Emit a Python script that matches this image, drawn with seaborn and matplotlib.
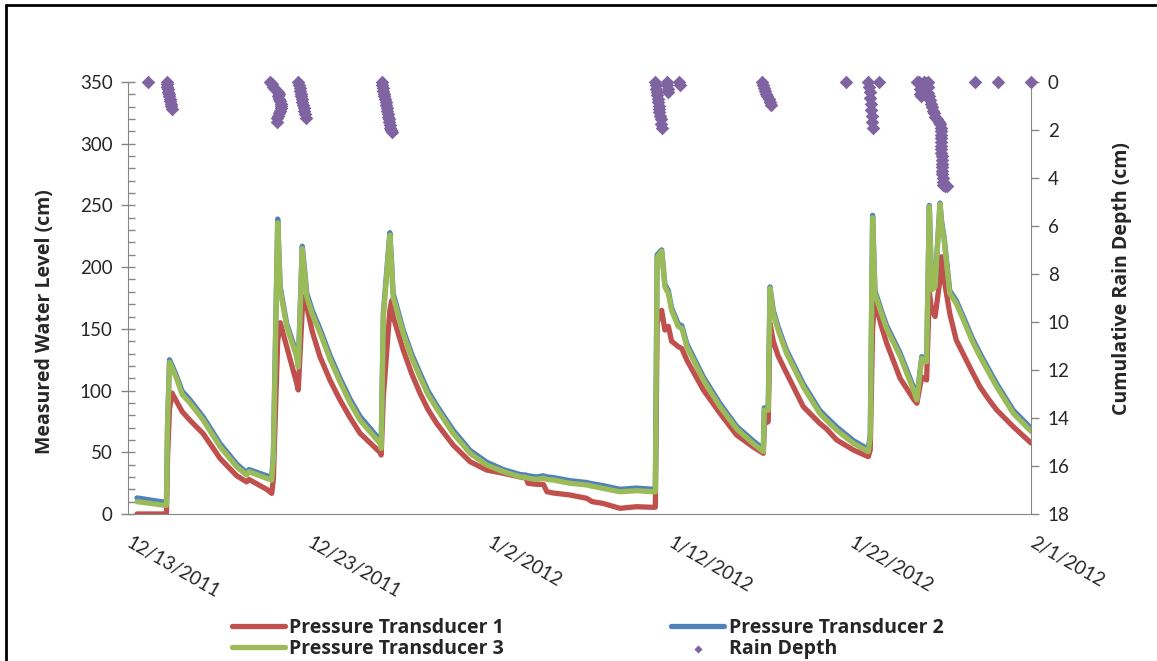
import numpy as np
import pandas as pd
import seaborn as sns
import matplotlib.pyplot as plt
import matplotlib.dates as mdates
from matplotlib.lines import Line2D

# water level data, days after 12/13/2011
days = [0.5, 2.05, 2.13, 2.19, 2.3, 2.44, 2.66, 3.0, 3.43, 4.17, 5.1,
        6.02, 6.57, 6.7, 7.68, 7.96, 8.05, 8.29, 8.43, 8.79, 9.34,
        9.43, 9.65, 9.78, 9.9, 10.2, 10.63, 11.2, 11.74, 12.3, 12.85, 13.95, 14.02, 14.14,
        14.5, 14.6, 14.68, 15.24, 15.7, 16.17, 16.6, 17.09, 18.0, 18.94, 19.86, 20.78,
        21.7, 22.05, 22.15, 22.63, 23.0, 23.2, 23.55, 24.47, 25.4, 25.7,
        26.3, 27.24, 28.15, 29.09, 29.2, 29.3, 29.55, 29.73, 29.92, 30.1,
        30.47, 30.67, 30.94, 31.86, 32.78, 33.7, 34.6, 35.18, 35.23, 35.45,
        35.55, 35.73, 36.0, 36.47, 37.39, 38.3, 38.67, 39.24, 40.16, 40.99, 41.1,
        41.23, 41.36, 41.7, 42.01, 42.75, 43.5, 43.68, 43.95, 44.22, 44.37, 44.5,
        44.69, 44.96, 45.05, 45.19, 45.5, 45.86, 46.32, 46.75, 47.18, 47.65, 48.1, 49.02,
        50.0]

pt1 = [0, 0, 0, 45, 85, 98, 92, 83, 76, 65, 45,
       31, 26, 28, 20, 16.7, 28, 140, 155, 135.5, 106,
       100.5, 165, 176, 168, 148, 127.5, 108, 92.4, 78, 65.4, 50, 47.8, 95,
       165, 173, 160, 133, 114, 97.8, 85, 73.5, 55.9, 42.4, 35.6, 33,
       30, 29, 24.9, 24, 24, 18, 17, 15.4, 12.7, 10,
       8.6, 4.6, 5.9, 5.4, 5.5, 155, 165, 149, 152, 140,
       135.6, 134, 124.8, 100.5, 81.6, 64, 54.5, 49.2, 73, 74.8,
       154.5, 140, 128, 114, 87, 73.5, 69, 60, 51.9, 46.4, 52,
       150, 173.4, 153, 138.3, 110, 93, 89.7, 111, 108.6, 180, 165,
       160, 190, 208.5, 190, 162.6, 141, 127.5, 115, 103, 93, 84.3, 70.7,
       57.5]

pt2 = [13, 9.5, 9.5, 72, 125, np.nan, 113, 99.5, 92.5, 78.5, 57,
       40.5, 33.5, 36, 31, 29.5, 48, 239, 184, 154, 130,
       121, 217, 198, 179, 165, 150, 128, 110, 93, 79, 60, 55.5, 163,
       228, 203, 179, 149, 130, 114, 100, 88, 68, 51.5, 42, 36,
       32, 31.5, 31, 30, 31, 30, 29.5, 27, 25.5, 24.5,
       23, 20, 21, 20, 20, 210, 214, 186, 181, 167,
       154, 152.5, 138, 111, 89.5, 71, 59.5, 52.5, 86, 86,
       184, 165, 151.5, 132.5, 105.5, 84, 78.5, 70.5, 59.5, 52.5, 64,
       242, 181, 165.5, 152.5, 130.5, 102.5, 94.5, 127.5, 125.5, 250, 184,
       186, 252, 237, 224, 181, 173, 157.5, 142.5, 130, 117.5, 105.5, 84,
       69.5]

pt3 = [10, 7, 7, 70, 123, np.nan, 111, 97, 90, 76, 54.5,
       38.3, 31.6, 34.3, 28.9, 27.5, 46, 236, 181.5, 151.8, 127.5,
       119, 215, 195, 176, 162, 147, 125, 107, 90, 76, 57.3, 53, 160,
       226, 200, 176, 146.4, 127, 111, 97, 85.6, 65.4, 49.2, 39.7, 34.3,
       30.2, 29.5, 29, 28, 29, 28, 27.5, 24.9, 23.5, 22.5,
       20.8, 18, 18.9, 18, 18, 208, 213, 184, 178.8, 165,
       151.8, 150.4, 135.6, 108.6, 87, 69, 57.3, 50.5, 84.3, 84,
       182.8, 162.6, 149, 130, 103, 81.6, 76, 68, 57.3, 50.5, 62.6,
       240, 178.8, 163, 150, 128, 100, 92.4, 126, 123.4, 249, 181.5,
       184, 251, 235, 222, 178.8, 170.7, 155, 140, 127.5, 115, 103, 81.6,
       67]

# cumulative rain depth (cm)
rain_day = [1.12,
            2.14, 2.16, 2.18, 2.2, 2.22, 2.25, 2.28, 2.3, 2.33, 2.36, 2.39, 2.42,
            7.86, 7.95, 8.05, 8.15, 8.3, 8.35, 8.3, 8.35, 8.4, 8.45, 8.45, 8.45,
            8.4, 8.35, 8.3, 8.25, 8.23,
            9.43, 9.46, 9.5, 9.53, 9.56, 9.6, 9.63, 9.66, 9.7, 9.73, 9.77, 9.8, 9.84,
            14.05, 14.08, 14.11, 14.14, 14.17, 14.2, 14.23, 14.26, 14.29, 14.32,
            14.35, 14.38, 14.41, 14.44, 14.47, 14.5, 14.53, 14.57, 14.6,
            29.18, 29.21, 29.24, 29.27, 29.3, 29.32, 29.35, 29.38, 29.4, 29.43,
            29.46, 29.5, 29.52, 29.55,
            29.83, 29.86, 29.9, 29.92,
            30.5, 30.56,
            35.09, 35.15, 35.2, 35.27, 35.33, 35.4, 35.47, 35.53, 35.59,
            39.76,
            40.99, 41.05, 41.1, 41.08, 41.12, 41.15, 41.17, 41.2, 41.23, 41.6,
            43.67, 43.8, 43.9, 43.85, 43.85, 43.9, 44.0, 44.1, 44.2, 44.3,
            44.3, 44.3, 44.35, 44.4, 44.45, 44.5, 44.55, 44.61, 44.7, 44.8,
            44.9, 44.98, 45.0, 45.0, 45.02, 45.02, 45.03, 45.03, 45.04, 45.04,
            45.05, 45.05, 45.06, 45.06, 45.07, 45.08, 45.1, 45.12, 45.15, 45.25,
            45.33,
            46.9, 48.16, 50.02]

rain_depth = [0,
              0, 0.1, 0.2, 0.3, 0.4, 0.5, 0.6, 0.7, 0.8, 0.9, 1.0, 1.14,
              0, 0.1, 0.2, 0.3, 0.4, 0.5, 0.6, 0.7, 0.8, 0.9, 1.0, 1.1,
              1.2, 1.3, 1.4, 1.5, 1.65,
              0, 0.12, 0.24, 0.36, 0.48, 0.6, 0.72, 0.84, 0.96, 1.08, 1.2, 1.35, 1.51,
              0, 0.12, 0.24, 0.36, 0.48, 0.6, 0.72, 0.84, 0.96, 1.08,
              1.2, 1.32, 1.44, 1.56, 1.68, 1.8, 1.9, 2.0, 2.07,
              0, 0.14, 0.28, 0.42, 0.56, 0.7, 0.84, 0.98, 1.12, 1.26,
              1.4, 1.55, 1.75, 1.93,
              0, 0.14, 0.28, 0.4,
              0, 0.12,
              0, 0.12, 0.24, 0.36, 0.48, 0.6, 0.72, 0.84, 0.96,
              0,
              0, 0.2, 0.4, 0.68, 0.9, 1.15, 1.4, 1.65, 1.93, 0,
              0, 0, 0.1, 0.3, 0.5, 0.6, 0.1, 0, 0.05, 0,
              0.2, 0.47, 0.6, 0.75, 0.9, 1.05, 1.2, 1.31, 1.45, 1.55,
              1.65, 1.75, 1.9, 2.05, 2.2, 2.35, 2.5, 2.65, 2.8, 2.95,
              3.1, 3.25, 3.4, 3.55, 3.7, 3.85, 4.0, 4.15, 4.3, 4.35,
              4.33,
              0, 0, 0]

tick_labels = ["12/13/2011", "12/23/2011", "1/2/2012", "1/12/2012", "1/22/2012", "2/1/2012"]

start = pd.Timestamp("2011-12-13")
df = pd.DataFrame({"date": start + pd.to_timedelta(days, unit="D"),
                   "pt1": pt1, "pt2": pt2, "pt3": pt3})
rain = pd.DataFrame({"date": start + pd.to_timedelta(rain_day, unit="D"),
                     "depth": rain_depth})

sns.set_style("white")
plt.rcParams["font.family"] = ["Lato", "DejaVu Sans"]
bold_font = {"family": ["Open Sans", "DejaVu Sans"], "weight": "bold"}

fig = plt.figure(figsize=(11.57, 6.61), dpi=100)
ax = fig.add_axes([0.1106, 0.2224, 0.7805, 0.6535])
ax2 = ax.twinx()

grey = "#868686"
sns.lineplot(data=df, x="date", y="pt1", ax=ax, color="#C0504D", linewidth=3.8,
             label="Pressure Transducer 1", legend=False)
sns.lineplot(data=df, x="date", y="pt2", ax=ax, color="#4F81BD", linewidth=3.8,
             label="Pressure Transducer 2", legend=False)
sns.lineplot(data=df, x="date", y="pt3", ax=ax, color="#9BBB59", linewidth=3.8,
             label="Pressure Transducer 3", legend=False)
sns.scatterplot(data=rain, x="date", y="depth", ax=ax2, marker="D", s=48,
                color="#8064A2", linewidth=0, clip_on=False, label="Rain Depth",
                legend=False, zorder=5)

ax.set_xlim(start, pd.Timestamp("2012-02-01"))
ax.set_ylim(0, 350)
ax2.set_ylim(18, 0)

tick_dates = pd.to_datetime(["2011-12-13", "2011-12-23", "2012-01-02",
                             "2012-01-12", "2012-01-22", "2012-02-01"])
ax.set_xticks(tick_dates)
ax.set_xticklabels(tick_labels, rotation=-30, ha="left", va="center",
                   rotation_mode="anchor")
ax.xaxis.set_minor_locator(mdates.DayLocator())
ax.set_yticks(range(0, 351, 50))
ax.set_yticks(range(0, 351, 10), minor=True)
ax2.set_yticks(range(0, 19, 2))

ax.tick_params(axis="x", which="major", direction="inout", length=11, width=1,
               color=grey, labelsize=13.5, pad=14)
ax.tick_params(axis="x", which="minor", direction="in", length=5, width=1, color=grey)
ax.tick_params(axis="y", which="major", direction="inout", length=10, width=1,
               color=grey, labelsize=13.5, pad=6)
ax.tick_params(axis="y", which="minor", direction="in", length=5, width=1, color=grey)
ax2.tick_params(axis="y", which="major", direction="out", length=6, width=1,
                color=grey, labelsize=13.5, pad=6)

for s in ["top", "right"]:
    ax.spines[s].set_visible(False)
for s in ["top", "left", "bottom"]:
    ax2.spines[s].set_visible(False)
for s in ["left", "bottom"]:
    ax.spines[s].set_color(grey)
ax2.spines["right"].set_color(grey)

ax.set_xlabel("")
ax.set_ylabel("")
ax2.set_ylabel("")
fig.text(45 / 1157, 0.514, "Measured Water Level (cm)", rotation=90,
         ha="center", va="center", fontsize=14, **bold_font)
fig.text(1122 / 1157, 0.578, "Cumulative Rain Depth (cm)", rotation=90,
         ha="center", va="center", fontsize=14, **bold_font)

h1, l1 = ax.get_legend_handles_labels()
h2, l2 = ax2.get_legend_handles_labels()
handles = [h1[0], h1[2], h1[1], h2[0]]
labels = [l1[0], l1[2], l1[1], l2[0]]
fig.legend(handles, labels, loc="center", bbox_to_anchor=(0.508, 0.034), ncol=2,
           frameon=False, handlelength=2.7, columnspacing=8.6, handletextpad=0.25,
           labelspacing=0.05, prop={"family": ["Open Sans", "DejaVu Sans"],
                                    "weight": "bold", "size": 14},
           markerscale=0.6)

# outer chart frame (top and left only visible)
fig.add_artist(Line2D([6 / 1157, 6 / 1157], [0, 1 - 5 / 661], transform=fig.transFigure,
                      color="black", linewidth=2))
fig.add_artist(Line2D([6 / 1157, 1], [1 - 5 / 661, 1 - 5 / 661], transform=fig.transFigure,
                      color="black", linewidth=2))

fig.savefig("out.png", dpi=100)
